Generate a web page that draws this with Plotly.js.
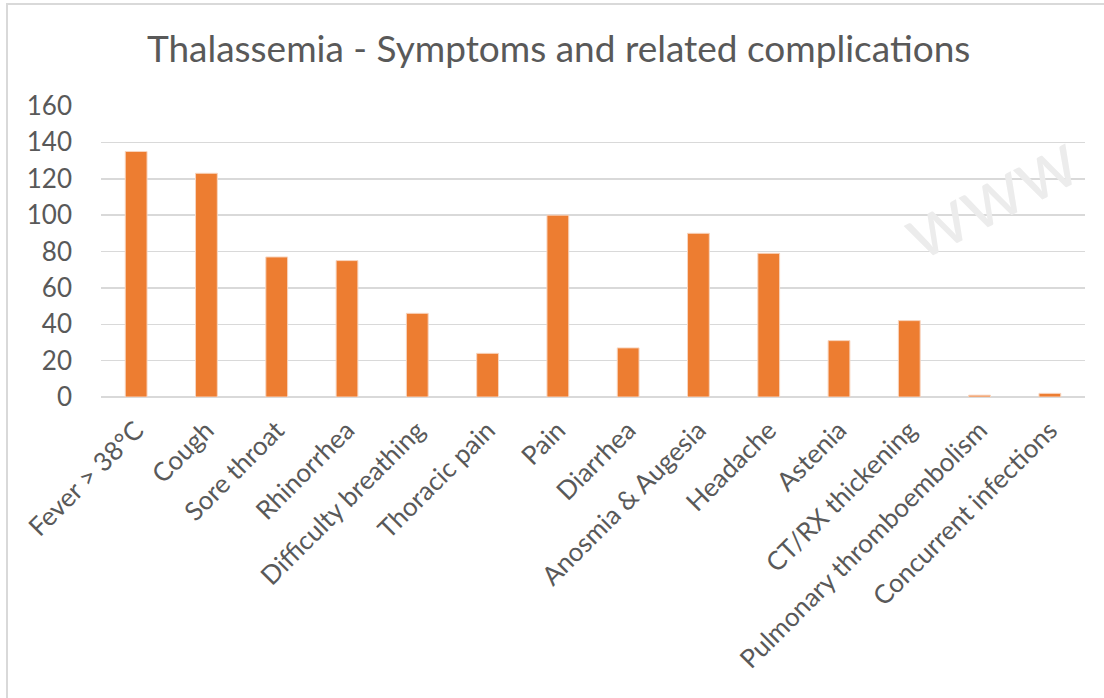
<!DOCTYPE html>
<html>
<head>
<meta charset="utf-8">
<script src="https://cdn.plot.ly/plotly-3.0.1.min.js"></script>
<style>
html,body{margin:0;padding:0;background:#fff;overflow:hidden;}
#frame{position:absolute;left:6px;top:3px;width:1110px;height:710px;border:2px solid #d9d9d9;box-sizing:border-box;}
#chart{position:absolute;left:0;top:0;width:1104px;height:698px;}
</style>
</head>
<body>
<div id="frame"></div>
<div id="chart"></div>
<script>
const categories = ["Fever > 38°C","Cough","Sore throat","Rhinorrhea","Difficulty breathing","Thoracic pain","Pain","Diarrhea","Anosmia & Augesia","Headache","Astenia","CT/RX thickening","Pulmonary thromboembolism","Concurrent infections"];
const values = [135,123,77,75,46,24,100,27,90,79,31,42,1,2];
const yTicks = [0,20,40,60,80,100,120,140,160];
const titleText = "Thalassemia - Symptoms and related complications";
const watermark = "www";

const trace = {
  type: "bar",
  x: categories,
  y: values,
  marker: {color: "#ED7D31", line: {color: "#f8d5bf", width: 1}},
  hoverinfo: "x+y"
};

const layout = {
  width: 1104, height: 698,
  paper_bgcolor: "rgba(0,0,0,0)",
  plot_bgcolor: "rgba(0,0,0,0)",
  margin: {l: 101, r: 19, t: 106, b: 301},
  bargap: 0.69,
  showlegend: false,
  font: {family: "Lato, 'Open Sans', sans-serif", color: "#595959"},
  title: {
    text: titleText,
    font: {family: "Lato, 'Open Sans', sans-serif", size: 37, color: "#595959"},
    xref: "container", x: 0.506, xanchor: "center",
    yref: "container", y: 0.93, yanchor: "middle"
  },
  xaxis: {
    type: "category",
    tickangle: -45,
    tickfont: {size: 26, color: "#595959"},
    showgrid: false,
    showline: false,
    ticks: "",
    ticklabelstandoff: 12,
    fixedrange: true
  },
  yaxis: {
    range: [0, 160],
    tickvals: yTicks,
    ticktext: yTicks.map(String),
    tickfont: {size: 26, color: "#595959"},
    gridcolor: "#d9d9d9",
    gridwidth: 1.5,
    zeroline: true,
    zerolinecolor: "#d9d9d9",
    zerolinewidth: 1.5,
    showline: false,
    ticks: "",
    ticklabelstandoff: 28,
    fixedrange: true
  },
  annotations: [{
    text: watermark,
    xref: "paper", yref: "paper",
    x: 0.795, y: 0.7,
    xanchor: "left", yanchor: "middle",
    showarrow: false,
    textangle: -27,
    font: {family: "Lato, sans-serif", size: 78, color: "#ececec"}
  }]
};

Plotly.newPlot("chart", [trace], layout, {displayModeBar: false, staticPlot: true});
</script>
</body>
</html>
